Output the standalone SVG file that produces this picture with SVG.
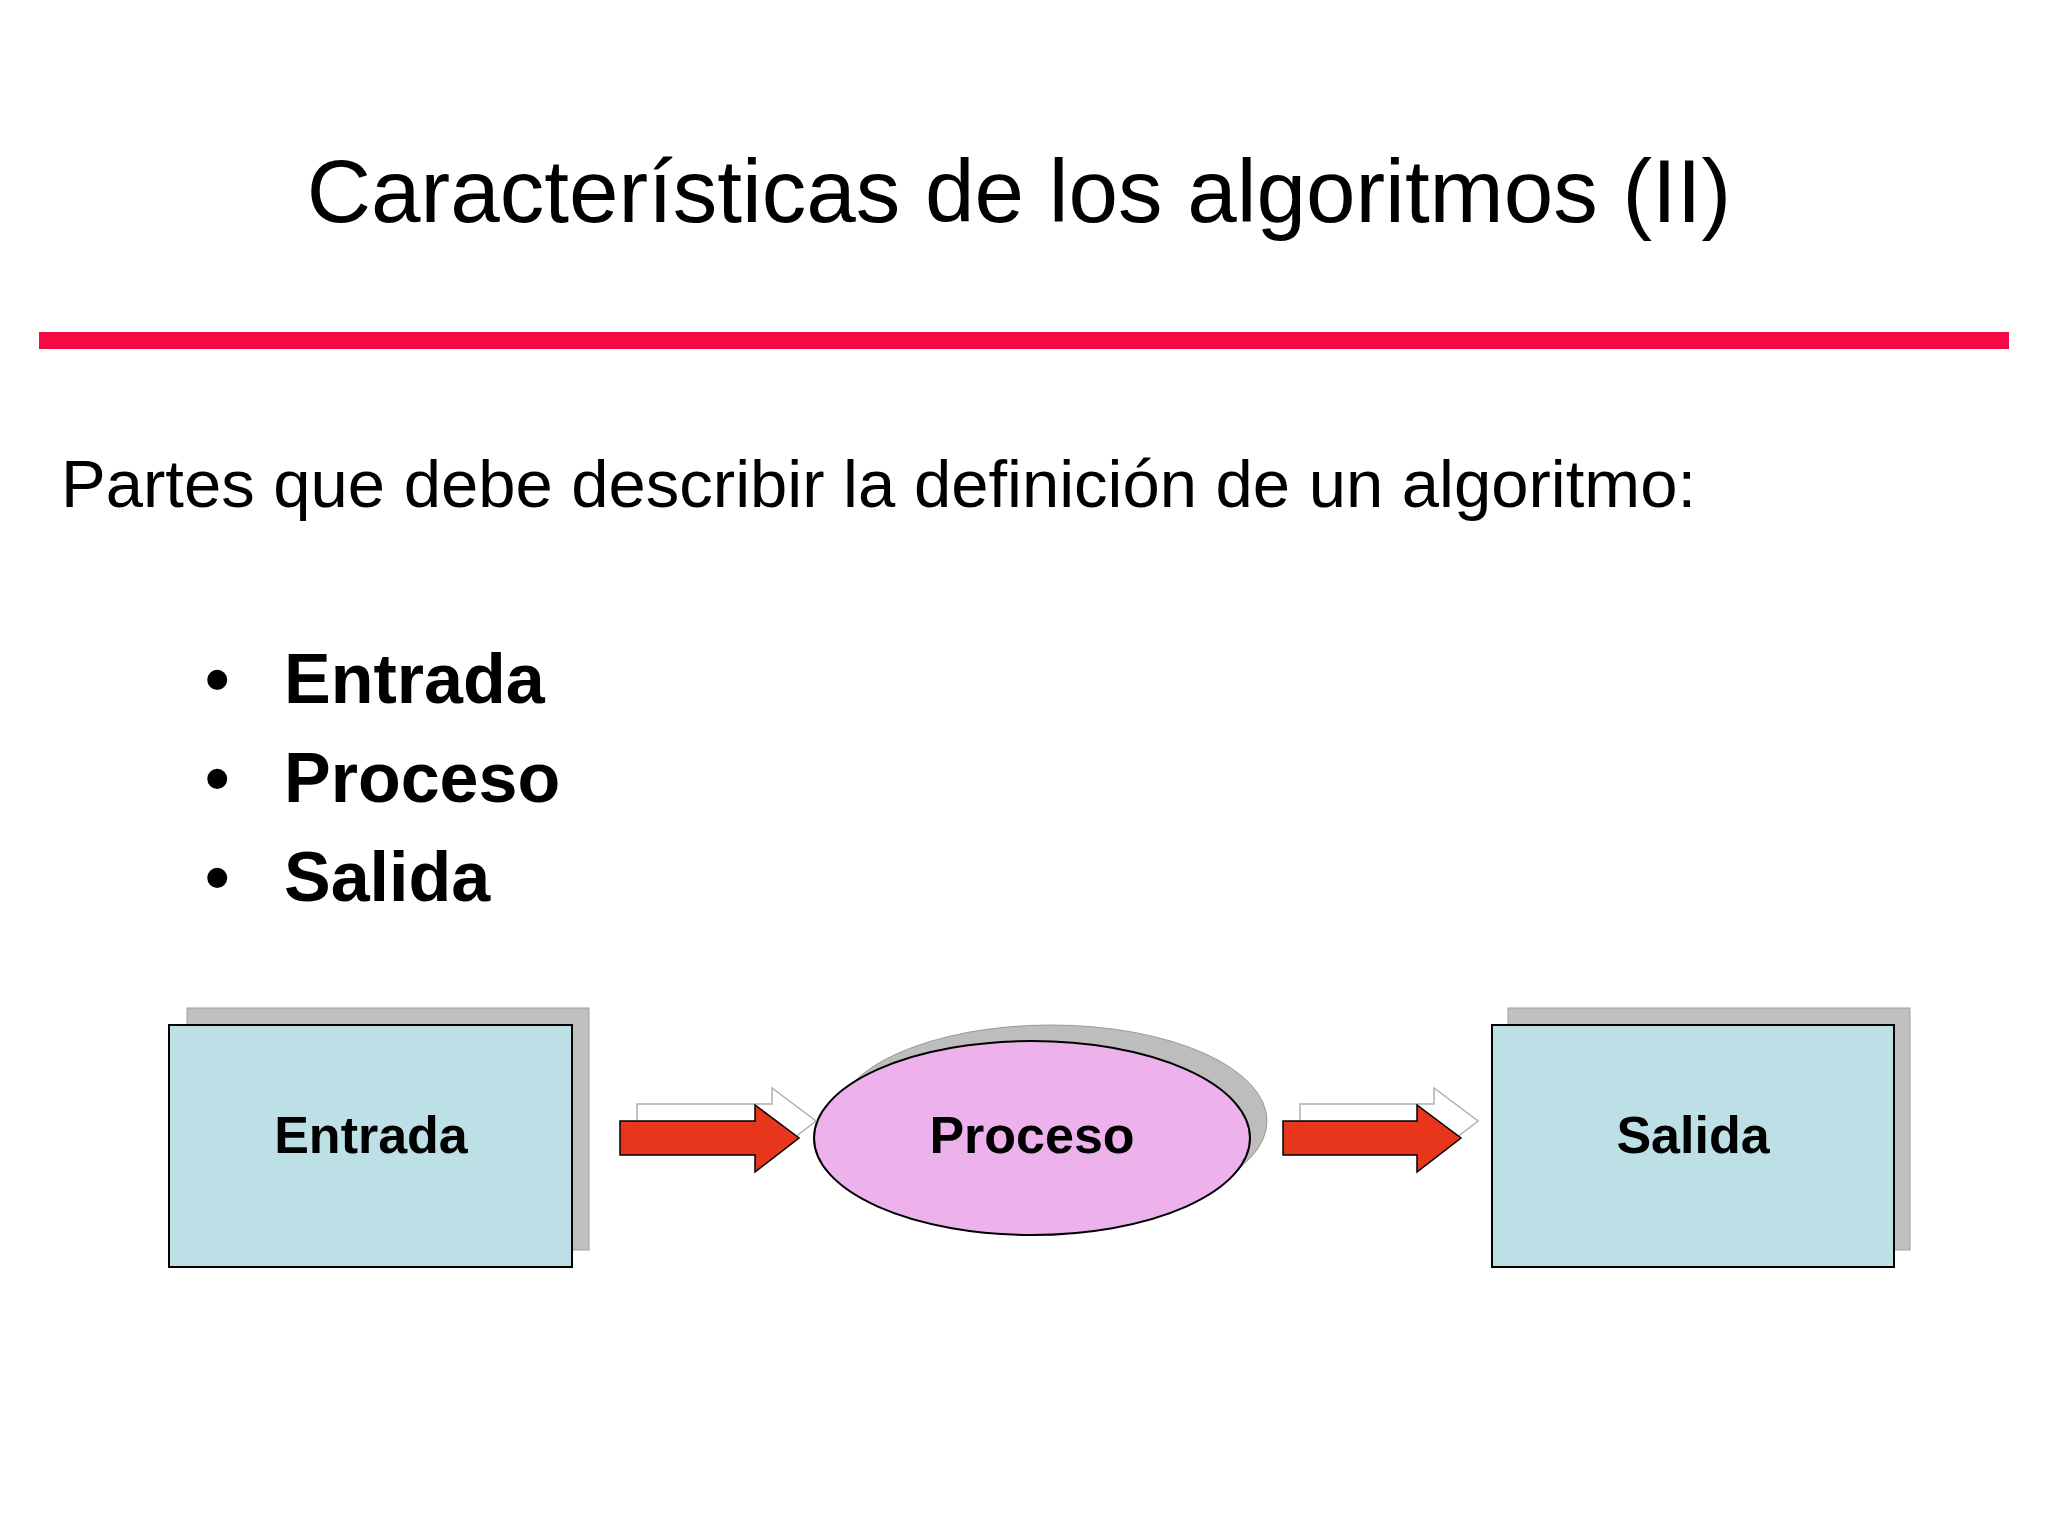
<svg xmlns="http://www.w3.org/2000/svg" width="2048" height="1536" viewBox="0 0 2048 1536">
<style>
.t{font-family:"Liberation Sans",Arial,sans-serif;fill:#000}
.b{font-weight:bold}
.box{fill:#bce0e5;stroke:#000;stroke-width:2}
.sh{fill:#c0c0c0;stroke:#a0a0a0;stroke-width:1}
.ar{fill:#e8361c;stroke:#000;stroke-width:1.5}
.ao{fill:#fff;stroke:#b0b0b0;stroke-width:1.5}
</style>
<rect width="2048" height="1536" fill="#fff"/>
<text class="t" x="1019" y="222" font-size="89" text-anchor="middle">Características de los algoritmos (II)</text>
<rect x="39" y="332" width="1970" height="17" fill="#f50a45"/>
<text class="t" x="61" y="507" font-size="67">Partes que debe describir la definición de un algoritmo:</text>
<g class="t b" font-size="70">
<text x="205" y="703">•</text><text x="284" y="703">Entrada</text>
<text x="205" y="802">•</text><text x="284" y="802">Proceso</text>
<text x="205" y="901">•</text><text x="284" y="901">Salida</text>
</g>
<g id="entrada">
<rect class="sh" x="187" y="1008" width="402" height="242"/>
<rect class="box" x="169" y="1025" width="403" height="242"/>
<text class="t b" x="371" y="1153" font-size="52" text-anchor="middle">Entrada</text>
</g>
<g id="proceso">
<ellipse cx="1051" cy="1121" rx="216" ry="96" fill="#bdbdbd" stroke="#999"/>
<ellipse cx="1032" cy="1138" rx="218" ry="97" fill="#edb1ec" stroke="#000" stroke-width="2"/>
<text class="t b" x="1032" y="1153" font-size="52" text-anchor="middle">Proceso</text>
</g>
<g id="salida">
<rect class="sh" x="1508" y="1008" width="402" height="242"/>
<rect class="box" x="1492" y="1025" width="402" height="242"/>
<text class="t b" x="1693" y="1153" font-size="52" text-anchor="middle">Salida</text>
</g>
<g id="connectors">
<path class="ao" d="M637 1104H772V1088L816 1121L772 1155V1138H637Z"/>
<path class="ar" d="M620 1121H755V1105L799 1138L755 1172V1155H620Z"/>
<path class="ao" d="M1300 1104H1434V1088L1478 1121L1434 1155V1138H1300Z"/>
<path class="ar" d="M1283 1121H1417V1105L1461 1138L1417 1172V1155H1283Z"/>
</g>
</svg>
